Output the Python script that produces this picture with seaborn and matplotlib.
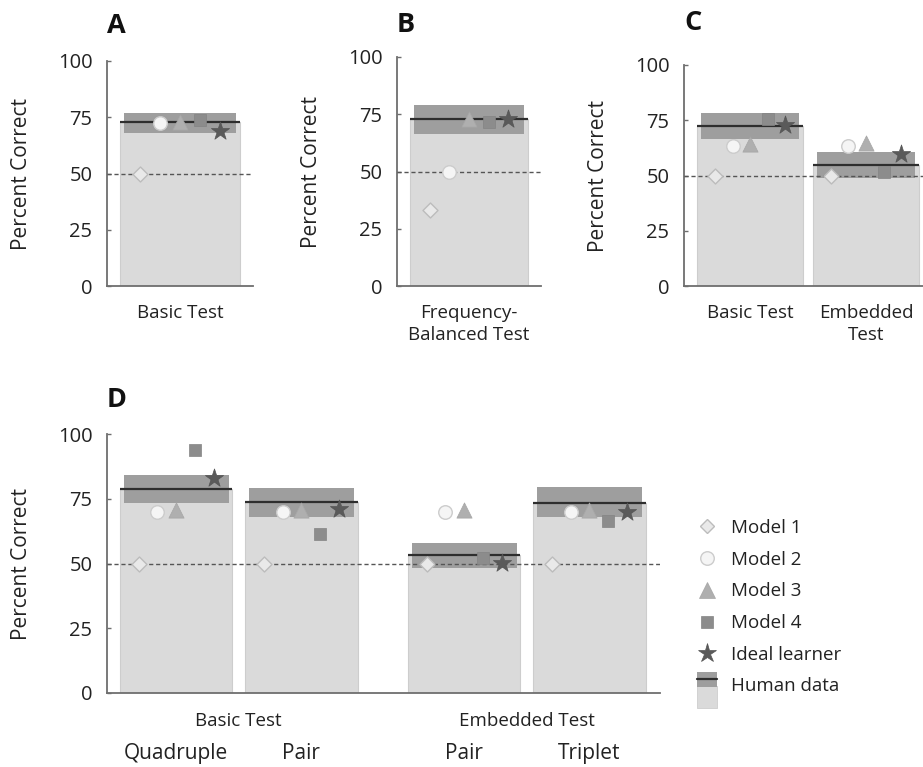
import numpy as np
import pandas as pd
import matplotlib
matplotlib.use("Agg")
import matplotlib.pyplot as plt
import seaborn as sns
from matplotlib.legend_handler import HandlerBase
from matplotlib.lines import Line2D
from matplotlib.patches import Rectangle

# ---------------- data ----------------
models = ["Model 1", "Model 2", "Model 3", "Model 4", "Ideal learner"]

# A : basic test
a_tests = ["Basic Test"]
a_human = [73.0]
a_human_lo = [67.8]
a_human_hi = [77.0]
a_scores = [[50.0], [72.3], [73.0], [74.0], [69.0]]

# B : frequency-balanced test
b_tests = ["Frequency-\nBalanced Test"]
b_human = [73.1]
b_human_lo = [66.3]
b_human_hi = [79.2]
b_scores = [[33.1], [49.9], [73.0], [71.7], [72.8]]

# C : basic vs embedded
c_tests = ["Basic Test", "Embedded\nTest"]
c_human = [72.4, 54.8]
c_human_lo = [66.4, 48.7]
c_human_hi = [78.4, 60.8]
c_scores = [[50.0, 50.0], [63.5, 63.5], [64.3, 64.9], [75.4, 51.4], [72.7, 59.7]]

# D : word length conditions
d_groups = ["Basic Test", "Embedded Test"]
d_tests = ["Quadruple", "Pair", "Pair", "Triplet"]
d_human = [78.7, 73.7, 53.3, 73.5]
d_human_lo = [73.3, 68.1, 48.1, 68.1]
d_human_hi = [84.0, 79.1, 57.8, 79.5]
d_scores = [[50.0, 50.0, 50.0, 50.0],
            [69.8, 70.0, 69.8, 70.0],
            [70.5, 70.5, 70.5, 70.5],
            [93.7, 61.4, 52.0, 66.6],
            [83.0, 71.0, 50.1, 70.0]]

# ---------------- styles ----------------
BAR = "#dadada"
BAR_EDGE = "#cdcdcd"
BAND = "#9e9e9e"
MEAN = "#2e2e2e"
AXIS = "#6e6e6e"
TEXT = "#222222"
mstyle = {
    "Model 1": dict(marker="D", s=58, color="#e9e9e9", edgecolor="#bcbcbc", linewidth=1.0),
    "Model 2": dict(marker="o", s=95, color="#f5f5f5", edgecolor="#cccccc", linewidth=1.0),
    "Model 3": dict(marker="^", s=120, color="#afafaf", edgecolor="#a6a6a6", linewidth=0.5),
    "Model 4": dict(marker="s", s=68, color="#8c8c8c", edgecolor="#848484", linewidth=0.5),
    "Ideal learner": dict(marker="*", s=190, color="#5a5a5a", edgecolor="#555555", linewidth=0.5),
}

sns.set_theme(style="white")
plt.rcParams["font.family"] = ["Open Sans", "DejaVu Sans"]
plt.rcParams["text.color"] = TEXT
plt.rcParams["axes.labelcolor"] = TEXT

W, H = 923, 767
fig = plt.figure(figsize=(W / 100, H / 100), dpi=100)


def px_axes(l, t, r, b):
    return fig.add_axes([l / W, 1 - b / H, (r - l) / W, (b - t) / H])


def draw_panel(ax, pos, human, lo, hi, scores, width, xlim, letter, letter_px):
    pos = np.asarray(pos, dtype=float)
    df = pd.DataFrame({"pos": pos, "human": human})
    sns.barplot(data=df, x="pos", y="human", native_scale=True, width=width,
                color=BAR, saturation=1, edgecolor=BAR_EDGE, linewidth=0.8,
                errorbar=None, ax=ax, zorder=1)
    lo = np.asarray(lo)
    hi = np.asarray(hi)
    ax.bar(pos, hi - lo, bottom=lo, width=width * 0.93, color=BAND,
           edgecolor="none", linewidth=0, zorder=2)
    ax.hlines(human, pos - width / 2, pos + width / 2, color=MEAN, lw=1.6, zorder=3)
    ax.axhline(50, color="#555555", lw=1.0, ls=(0, (3, 2)), zorder=3.5)
    for i, m in enumerate(models):
        xs = pos + (i - 2) * width / 6
        sns.scatterplot(x=xs, y=scores[i], ax=ax, legend=False, zorder=4,
                        clip_on=False, **mstyle[m])
    ax.set_xlim(*xlim)
    ax.set_ylim(0, 100)
    ax.set_yticks([0, 25, 50, 75, 100])
    ax.set_yticklabels(["0", "25", "50", "75", "100"])
    ax.set_xlabel("")
    ax.set_ylabel("Percent Correct", fontsize=15)
    wpx = ax.get_position().width * W
    hpx = ax.get_position().height * H
    ax.yaxis.set_label_coords(-75 / wpx, 0.5)
    ax.tick_params(axis="y", direction="in", length=3, width=1, color=AXIS,
                   pad=10.5, labelsize=14.5, labelcolor=TEXT, left=True)
    ax.tick_params(axis="x", length=0, pad=13, labelsize=13.5, labelcolor=TEXT)
    for side in ["top", "right"]:
        ax.spines[side].set_visible(False)
    for side in ["left", "bottom"]:
        ax.spines[side].set_color(AXIS)
        ax.spines[side].set_linewidth(1.3)
    ax.text(0, 1 + letter_px / hpx, letter, transform=ax.transAxes, fontsize=19.5,
            fontweight="bold", ha="left", va="baseline", color="#111111")


# A
axA = px_axes(107, 61, 253, 286)
draw_panel(axA, [0], a_human, a_human_lo, a_human_hi, a_scores, 0.82, (-0.5, 0.5), "A", 28)
axA.set_xticks([0])
axA.set_xticklabels(a_tests)

# B
axB = px_axes(397, 57, 541, 286)
draw_panel(axB, [0], b_human, b_human_lo, b_human_hi, b_scores, 0.82, (-0.5, 0.5), "B", 25)
axB.set_xticks([0])
axB.set_xticklabels(b_tests, linespacing=1.25)

# C
axC = px_axes(684, 65, 924, 286)
draw_panel(axC, [0, 1], c_human, c_human_lo, c_human_hi, c_scores, 0.91, (-0.57, 1.5), "C", 35)
axC.set_xticks([0, 1])
axC.set_xticklabels(c_tests, linespacing=1.25)

# D
d_pos = [0, 1, 2.3, 3.3]
axD = px_axes(107, 434, 660, 693)
draw_panel(axD, d_pos, d_human, d_human_lo, d_human_hi, d_scores, 0.9, (-0.552, 3.864), "D", 27)
axD.set_xticks(d_pos)
axD.set_xticklabels(d_tests)
axD.tick_params(axis="x", pad=36, labelsize=15)
for g, (p1, p2) in zip(d_groups, [(d_pos[0], d_pos[1]), (d_pos[2], d_pos[3])]):
    axD.text((p1 + p2) / 2, -0.075, g, transform=axD.get_xaxis_transform(),
             ha="center", va="top", fontsize=13.5)


# legend
class HumanHandler(HandlerBase):
    def create_artists(self, legend, orig_handle, xdescent, ydescent,
                       width, height, fontsize, trans):
        x0 = -xdescent
        c = -ydescent + height / 2
        light = Rectangle((x0, c - 17), width, 16, facecolor=BAR,
                          edgecolor=BAR_EDGE, lw=0.6, transform=trans)
        dark = Rectangle((x0, c - 1.5), width, 11, facecolor=BAND,
                         edgecolor="none", transform=trans)
        line = Line2D([x0, x0 + width], [c + 4.5, c + 4.5], color=MEAN,
                      lw=1.6, transform=trans)
        return [light, dark, line]


handles = []
for m in models:
    st = mstyle[m]
    handles.append(Line2D([], [], ls="", marker=st["marker"], markersize=np.sqrt(st["s"]),
                          markerfacecolor=st["color"], markeredgecolor=st["edgecolor"],
                          markeredgewidth=st["linewidth"]))
human_handle = Rectangle((0, 0), 1, 1)
handles.append(human_handle)
labels = models + ["Human data"]
fig.legend(handles, labels, loc="upper left", bbox_to_anchor=(697 / W, 1 - 519 / H),
           frameon=False, fontsize=13.5, handlelength=1.05, handleheight=0.7,
           handletextpad=0.75, labelspacing=0.73, borderpad=0, borderaxespad=0,
           handler_map={human_handle: HumanHandler()})

fig.savefig("out.png", dpi=100)
